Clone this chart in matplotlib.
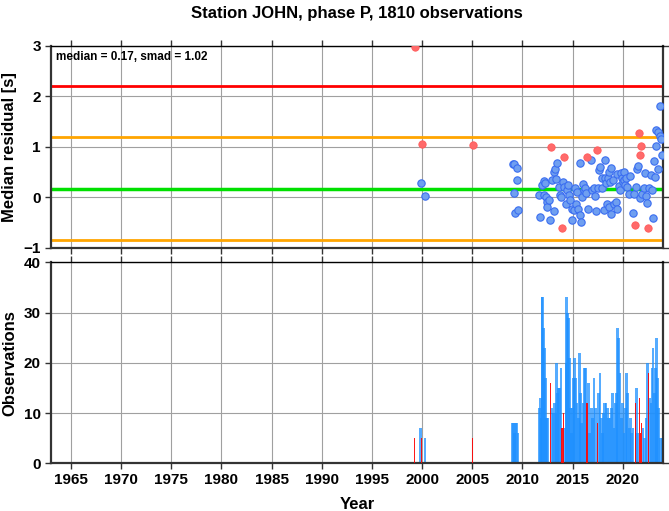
import matplotlib
matplotlib.use('Agg')
import matplotlib.pyplot as plt

plt.rcParams['font.family'] = ['Liberation Sans', 'DejaVu Sans']

# Residuos medianos por evento (azul = normal, rojo = marcado)
blue_years = [1999.85, 2000.30, 2009.02, 2009.15, 2009.46, 2009.42, 2009.16, 2009.26, 2009.59,
              2011.72, 2011.69, 2011.92, 2012.12, 2012.29, 2012.12, 2012.35, 2012.45, 2012.49, 2012.69,
              2012.75, 2012.95, 2013.12, 2013.28, 2013.48, 2013.38, 2013.18, 2013.62, 2013.72, 2013.88,
              2014.01, 2014.11, 2014.35, 2014.45, 2014.55, 2014.61, 2014.78, 2014.95, 2014.95, 2015.11,
              2015.28, 2015.38, 2015.44, 2015.54, 2015.71, 2015.78, 2015.84, 2015.94, 2016.04, 2016.11,
              2016.27, 2016.37, 2016.54, 2016.84, 2016.94, 2017.11, 2017.21, 2017.37, 2017.50, 2017.67,
              2017.77, 2017.94, 2017.94, 2018.14, 2018.24, 2018.27, 2018.37, 2018.43, 2018.53, 2018.60,
              2018.67, 2018.77, 2018.87, 2018.87, 2019.00, 2019.10, 2019.27, 2019.37, 2019.43, 2019.60,
              2019.70, 2019.83, 2019.93, 2020.00, 2020.10, 2020.16, 2020.26, 2020.36, 2020.43, 2020.60,
              2020.76, 2021.03, 2021.09, 2021.36, 2021.43, 2021.56, 2021.76, 2021.92, 2022.09, 2022.22,
              2022.32, 2022.42, 2022.62, 2022.76, 2022.92, 2023.05, 2023.12, 2023.19, 2023.32, 2023.35,
              2023.49, 2023.55, 2023.69, 2023.75, 2023.89, 2023.85]
blue_resid = [0.28, 0.03, 0.67, 0.66, 0.58, 0.35, 0.09, -0.31, -0.25,
              -0.39, 0.04, 0.24, 0.33, 0.28, 0.04, 0.01, -0.09, -0.18, -0.05,
              -0.44, 0.34, 0.51, 0.57, 0.69, 0.36, -0.27, 0.20, 0.05, 0.01,
              0.31, 0.21, -0.12, 0.15, 0.24, 0.04, -0.05, -0.22, -0.45, -0.25,
              0.19, -0.12, 0.11, -0.22, 0.69, -0.35, -0.48, 0.01, 0.26, 0.15,
              0.18, 0.08, -0.23, 0.75, 0.15, 0.18, 0.03, -0.27, 0.19, 0.54,
              0.60, 0.39, 0.19, -0.25, 0.75, 0.38, 0.29, -0.12, 0.38, -0.19,
              0.51, 0.31, 0.58, -0.33, 0.34, -0.12, -0.09, -0.22, 0.46, 0.22,
              0.15, 0.48, 0.38, 0.31, 0.51, 0.34, 0.24, 0.38, 0.21, 0.07,
              0.42, -0.30, 0.07, 0.20, 0.56, 0.62, -0.02, 0.07, 0.18, 0.49,
              0.03, -0.10, 0.19, 0.44, 0.15, -0.40, 0.73, 0.41, 1.02, 1.34,
              1.29, 0.56, 1.21, 1.82, 0.84, 1.15]
red_years = [1999.25, 1999.95, 2005.03, 2012.82, 2014.15, 2013.98, 2016.44, 2017.47,
             2021.26, 2021.59, 2021.69, 2021.86, 2022.52]
red_resid = [2.98, 1.06, 1.03, 0.99, 0.81, -0.60, 0.81, 0.94,
             -0.54, 1.27, 0.85, 1.02, -0.60]

median = 0.17
smad = 1.02

# Numero de observaciones por evento
obs_blue_years = [1999.85, 2000.30, 2009.00, 2009.10, 2009.20, 2009.30, 2009.40, 2009.55,
                  2011.68, 2011.78, 2011.85, 2011.95, 2012.02, 2012.12, 2012.18, 2012.28, 2012.38,
                  2012.52, 2012.95, 2013.05, 2013.18, 2013.28, 2013.38, 2013.51, 2013.61, 2013.71,
                  2013.84, 2014.21, 2014.34, 2014.41, 2014.48, 2014.58, 2014.68, 2014.78, 2014.88,
                  2014.97, 2015.11, 2015.21, 2015.31, 2015.44, 2015.57, 2015.71, 2015.81, 2015.91,
                  2016.04, 2016.17, 2016.27, 2016.57, 2016.70, 2016.87, 2017.00, 2017.13, 2017.27,
                  2017.60, 2017.73, 2017.87, 2017.97, 2018.10, 2018.20, 2018.33, 2018.46, 2018.60,
                  2018.73, 2018.86, 2019.00, 2019.13, 2019.26, 2019.39, 2019.49, 2019.59, 2019.73,
                  2019.86, 2019.99, 2020.13, 2020.26, 2020.39, 2020.49, 2020.63, 2020.76, 2020.89,
                  2021.02, 2021.39, 2021.49, 2022.02, 2022.15, 2022.32, 2022.45, 2022.65, 2022.82,
                  2022.92, 2023.02, 2023.15, 2023.25, 2023.35, 2023.45, 2023.58, 2023.75, 2023.91]
obs_blue = [7, 5, 8, 8, 6, 8, 8, 6,
            11, 13, 9, 33, 33, 27, 23, 17, 9,
            9, 11, 10, 12, 10, 20, 14, 15, 15,
            19, 7, 20, 33, 30, 29, 21, 11, 6,
            11, 17, 21, 17, 12, 9, 22, 14, 8,
            12, 19, 19, 16, 6, 11, 9, 17, 11,
            14, 18, 9, 6, 10, 12, 12, 11, 9,
            9, 11, 14, 7, 12, 14, 27, 25, 18,
            9, 12, 6, 11, 18, 14, 7, 9, 6,
            7, 15, 6, 7, 5, 9, 20, 13, 12,
            19, 23, 14, 19, 25, 17, 11, 5, 5]
obs_red_years = [1999.25, 1999.95, 2005.03, 2012.78, 2013.94, 2014.11, 2016.44, 2017.50,
                 2021.26, 2021.65, 2021.75, 2021.89, 2022.55]
obs_red = [5, 5, 5, 16, 7, 10, 12, 8, 12, 13, 6, 8, 18]

year_ticks = list(range(1965, 2025, 5))

fig = plt.figure(figsize=(6.69, 5.11), dpi=100)
ax1 = fig.add_axes([0.0758, 0.5147, 0.9152, 0.3953])
ax2 = fig.add_axes([0.0758, 0.0933, 0.9152, 0.3934])

for ax in (ax1, ax2):
    ax.set_xlim(1963, 2024)
    ax.set_xticks(year_ticks)
    ax.grid(True, color='#a0a0a0', lw=0.8)
    ax.set_axisbelow(True)
    ax.tick_params(direction='out', length=4, width=1, top=True, right=True,
                   labelsize=11, color='#333333', pad=3)
    for side in ('left', 'right', 'bottom'):
        ax.spines[side].set_linewidth(1.6)
        ax.spines[side].set_color('#333333')
    ax.spines['top'].set_linewidth(1.0)
    ax.spines['top'].set_color('black')

# Panel superior: residuos
ax1.set_ylim(-1, 3)
ax1.set_yticks([-1, 0, 1, 2, 3])
ax1.tick_params(labelbottom=False)
ax1.axhline(median + 2 * smad, color='#ff0000', lw=2)
ax1.axhline(median + smad, color='#ffa500', lw=2)
ax1.axhline(median - smad, color='#ffa500', lw=2)
ax1.axhline(median, color='#00e000', lw=2.5)
ax1.scatter(blue_years, blue_resid, s=28, c='#6f9ff0', edgecolors='#3a6df0',
            linewidths=0.8, zorder=3, clip_on=True)
ax1.scatter(red_years, red_resid, s=28, c='#ff6a6a', edgecolors='#ff5a5a',
            linewidths=0.6, zorder=3, clip_on=True)
ax1.text(0.008, 0.975, f'median = {median:.2f}, smad = {smad:.2f}', transform=ax1.transAxes,
         ha='left', va='top', fontsize=8.5, fontweight='bold')
ax1.set_ylabel('Median residual [s]', fontsize=12, fontweight='bold', labelpad=5)
ax1.set_title('Station JOHN, phase P, 1810 observations', fontsize=12, fontweight='bold', pad=20)

# Panel inferior: observaciones
ax2.set_ylim(0, 40)
ax2.set_yticks([0, 10, 20, 30, 40])
ax2.bar(obs_blue_years, obs_blue, width=0.27, color='#1e90ff', alpha=0.75, lw=0, zorder=2)
ax2.bar(obs_red_years, obs_red, width=0.12, color='#ff0000', alpha=0.9, lw=0, zorder=3)
ax2.set_ylabel('Observations', fontsize=12, fontweight='bold', labelpad=5)
ax2.set_xlabel('Year', fontsize=12, fontweight='bold', labelpad=7)

for ax in (ax1, ax2):
    for lab in ax.get_xticklabels() + ax.get_yticklabels():
        lab.set_fontweight('bold')

fig.savefig('out.png', dpi=100)
